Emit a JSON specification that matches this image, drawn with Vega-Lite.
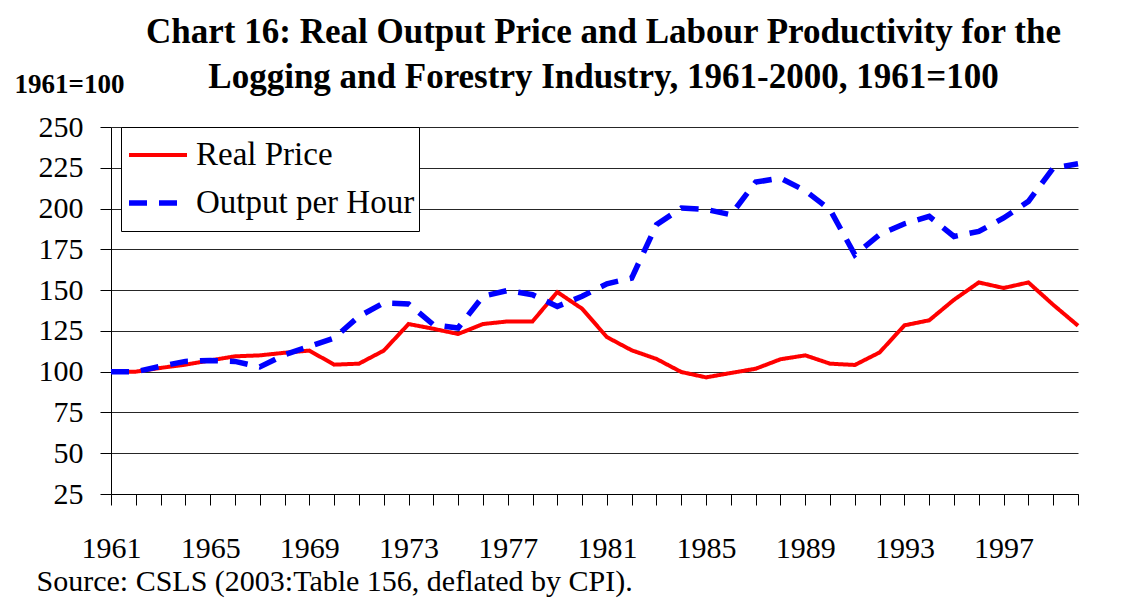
{
  "$schema": "https://vega.github.io/schema/vega-lite/v6.json",
  "width": 967,
  "height": 367,
  "autosize": {"type": "none"},
  "padding": {"left": 111, "top": 127, "right": 70, "bottom": 109},
  "background": "white",
  "title": {
    "text": ["Chart 16: Real Output Price and Labour Productivity for the", "Logging and Forestry Industry, 1961-2000, 1961=100"],
    "font": "Liberation Serif",
    "fontSize": 35,
    "fontWeight": "bold",
    "lineHeight": 45,
    "anchor": "middle",
    "dx": 9,
    "dy": 55,
    "offset": 30,
    "color": "black"
  },
  "data": {
    "values": [
      {"year": 1961, "series": "Real Price", "value": 100},
      {"year": 1962, "series": "Real Price", "value": 100},
      {"year": 1963, "series": "Real Price", "value": 102.3},
      {"year": 1964, "series": "Real Price", "value": 104.3},
      {"year": 1965, "series": "Real Price", "value": 106.9},
      {"year": 1966, "series": "Real Price", "value": 109.4},
      {"year": 1967, "series": "Real Price", "value": 110},
      {"year": 1968, "series": "Real Price", "value": 111.6},
      {"year": 1969, "series": "Real Price", "value": 112.9},
      {"year": 1970, "series": "Real Price", "value": 104.3},
      {"year": 1971, "series": "Real Price", "value": 104.9},
      {"year": 1972, "series": "Real Price", "value": 112.9},
      {"year": 1973, "series": "Real Price", "value": 129.2},
      {"year": 1974, "series": "Real Price", "value": 126.3},
      {"year": 1975, "series": "Real Price", "value": 123.1},
      {"year": 1976, "series": "Real Price", "value": 129.2},
      {"year": 1977, "series": "Real Price", "value": 130.8},
      {"year": 1978, "series": "Real Price", "value": 130.8},
      {"year": 1979, "series": "Real Price", "value": 148.8},
      {"year": 1980, "series": "Real Price", "value": 138.6},
      {"year": 1981, "series": "Real Price", "value": 121.2},
      {"year": 1982, "series": "Real Price", "value": 113.1},
      {"year": 1983, "series": "Real Price", "value": 107.8},
      {"year": 1984, "series": "Real Price", "value": 99.8},
      {"year": 1985, "series": "Real Price", "value": 96.5},
      {"year": 1986, "series": "Real Price", "value": 99.2},
      {"year": 1987, "series": "Real Price", "value": 101.8},
      {"year": 1988, "series": "Real Price", "value": 107.6},
      {"year": 1989, "series": "Real Price", "value": 110},
      {"year": 1990, "series": "Real Price", "value": 104.9},
      {"year": 1991, "series": "Real Price", "value": 104.1},
      {"year": 1992, "series": "Real Price", "value": 111.8},
      {"year": 1993, "series": "Real Price", "value": 128.4},
      {"year": 1994, "series": "Real Price", "value": 131.5},
      {"year": 1995, "series": "Real Price", "value": 144.1},
      {"year": 1996, "series": "Real Price", "value": 154.7},
      {"year": 1997, "series": "Real Price", "value": 151.3},
      {"year": 1998, "series": "Real Price", "value": 154.7},
      {"year": 1999, "series": "Real Price", "value": 141},
      {"year": 2000, "series": "Real Price", "value": 128.2},
      {"year": 1961, "series": "Output per Hour", "value": 100},
      {"year": 1962, "series": "Output per Hour", "value": 100},
      {"year": 1963, "series": "Output per Hour", "value": 103.3},
      {"year": 1964, "series": "Output per Hour", "value": 106.3},
      {"year": 1965, "series": "Output per Hour", "value": 106.9},
      {"year": 1966, "series": "Output per Hour", "value": 106.3},
      {"year": 1967, "series": "Output per Hour", "value": 102.9},
      {"year": 1968, "series": "Output per Hour", "value": 110.4},
      {"year": 1969, "series": "Output per Hour", "value": 115.5},
      {"year": 1970, "series": "Output per Hour", "value": 120.6},
      {"year": 1971, "series": "Output per Hour", "value": 133.9},
      {"year": 1972, "series": "Output per Hour", "value": 142.1},
      {"year": 1973, "series": "Output per Hour", "value": 141.5},
      {"year": 1974, "series": "Output per Hour", "value": 128.8},
      {"year": 1975, "series": "Output per Hour", "value": 126.8},
      {"year": 1976, "series": "Output per Hour", "value": 146.2},
      {"year": 1977, "series": "Output per Hour", "value": 149.8},
      {"year": 1978, "series": "Output per Hour", "value": 147.2},
      {"year": 1979, "series": "Output per Hour", "value": 140},
      {"year": 1980, "series": "Output per Hour", "value": 146.2},
      {"year": 1981, "series": "Output per Hour", "value": 153.9},
      {"year": 1982, "series": "Output per Hour", "value": 157.4},
      {"year": 1983, "series": "Output per Hour", "value": 190.1},
      {"year": 1984, "series": "Output per Hour", "value": 200.3},
      {"year": 1985, "series": "Output per Hour", "value": 199.5},
      {"year": 1986, "series": "Output per Hour", "value": 196.2},
      {"year": 1987, "series": "Output per Hour", "value": 216.2},
      {"year": 1988, "series": "Output per Hour", "value": 218.7},
      {"year": 1989, "series": "Output per Hour", "value": 210.9},
      {"year": 1990, "series": "Output per Hour", "value": 199.3},
      {"year": 1991, "series": "Output per Hour", "value": 171.7},
      {"year": 1992, "series": "Output per Hour", "value": 184},
      {"year": 1993, "series": "Output per Hour", "value": 190.7},
      {"year": 1994, "series": "Output per Hour", "value": 195.2},
      {"year": 1995, "series": "Output per Hour", "value": 182.9},
      {"year": 1996, "series": "Output per Hour", "value": 186},
      {"year": 1997, "series": "Output per Hour", "value": 194.2},
      {"year": 1998, "series": "Output per Hour", "value": 204.4},
      {"year": 1999, "series": "Output per Hour", "value": 224.8},
      {"year": 2000, "series": "Output per Hour", "value": 227.5}
    ]
  },
  "mark": {"type": "line", "interpolate": "linear", "strokeCap": "butt"},
  "encoding": {
    "x": {
      "field": "year",
      "type": "quantitative",
      "scale": {"domain": [1961, 2000], "nice": false, "zero": false},
      "axis": {
        "values": [1961,1962,1963,1964,1965,1966,1967,1968,1969,1970,1971,1972,1973,1974,1975,1976,1977,1978,1979,1980,1981,1982,1983,1984,1985,1986,1987,1988,1989,1990,1991,1992,1993,1994,1995,1996,1997,1998,1999,2000],
        "labelExpr": "(datum.value - 1961) % 4 == 0 && datum.value < 2000 ? datum.value : ''",
        "labelOverlap": false,
        "labelFlush": false,
        "grid": false,
        "tickSize": 11,
        "tickColor": "black",
        "domainColor": "black",
        "labelFont": "Liberation Serif",
        "labelFontSize": 30,
        "labelColor": "black",
        "labelPadding": 28,
        "title": "Source: CSLS (2003:Table 156, deflated by CPI).",
        "titleFont": "Liberation Serif",
        "titleFontSize": 30,
        "titleFontWeight": "normal",
        "titleColor": "black",
        "titleAnchor": "start",
        "titleAlign": "left",
        "titleBaseline": "alphabetic",
        "titleX": -75,
        "titleY": 96
      }
    },
    "y": {
      "field": "value",
      "type": "quantitative",
      "scale": {"domain": [25, 250], "nice": false, "zero": false},
      "axis": {
        "values": [25, 50, 75, 100, 125, 150, 175, 200, 225, 250],
        "grid": true,
        "gridColor": "black",
        "gridOpacity": 0.85,
        "tickSize": 11,
        "tickColor": "black",
        "domainColor": "black",
        "labelFont": "Liberation Serif",
        "labelFontSize": 30,
        "labelColor": "black",
        "labelPadding": 17,
        "title": "1961=100",
        "titleFont": "Liberation Serif",
        "titleFontSize": 27,
        "titleFontWeight": "bold",
        "titleColor": "black",
        "titleAngle": 0,
        "titleAlign": "left",
        "titleBaseline": "alphabetic",
        "titleX": -97,
        "titleY": -35
      }
    },
    "color": {
      "field": "series",
      "type": "nominal",
      "scale": {"domain": ["Real Price", "Output per Hour"], "range": ["#ff0000", "#0000ff"]},
      "legend": {
        "title": null,
        "orient": "none",
        "legendX": 10,
        "legendY": 0,
        "direction": "vertical",
        "fillColor": "white",
        "strokeColor": "black",
        "padding": 4,
        "symbolType": "stroke",
        "symbolSize": 3364,
        "symbolOffset": 1,
        "clipHeight": 48,
        "rowPadding": 0,
        "labelFont": "Liberation Serif",
        "labelFontSize": 33,
        "labelColor": "black",
        "labelOffset": 6,
        "labelLimit": 400
      }
    },
    "strokeDash": {
      "field": "series",
      "type": "nominal",
      "scale": {"domain": ["Real Price", "Output per Hour"], "range": [[1, 0], [18, 12]]}
    },
    "strokeWidth": {
      "field": "series",
      "type": "nominal",
      "scale": {"domain": ["Real Price", "Output per Hour"], "range": [4, 5.5]}
    }
  },
  "config": {
    "view": {"stroke": null}
  }
}
